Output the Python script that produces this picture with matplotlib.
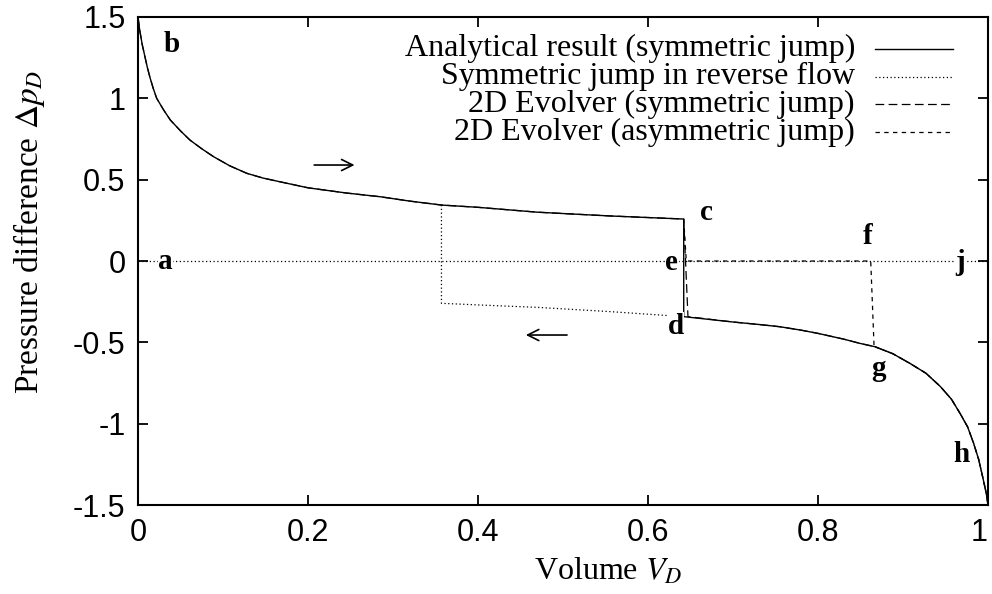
"""Pressure difference vs. volume for the symmetric/asymmetric jump comparison."""

import matplotlib
matplotlib.use("Agg")
import matplotlib.pyplot as plt
import numpy as np

plt.rcParams["mathtext.fontset"] = "stix"

# upper branch (forward flow)
v_upper = np.array([0.0, 0.002, 0.005, 0.008, 0.011, 0.014, 0.018, 0.022, 0.030,
                    0.038, 0.050, 0.061, 0.075, 0.089, 0.108, 0.128, 0.147, 0.167,
                    0.20, 0.245, 0.285, 0.320, 0.357, 0.40, 0.47, 0.555, 0.642])
p_upper = np.array([1.5, 1.42, 1.33, 1.26, 1.19, 1.13, 1.06, 1.0, 0.93,
                    0.867, 0.80, 0.744, 0.69, 0.641, 0.585, 0.539, 0.51, 0.487,
                    0.45, 0.418, 0.395, 0.368, 0.344, 0.33, 0.30, 0.277, 0.258])

# lower branch
v_lower = np.array([0.357, 0.40, 0.47, 0.555, 0.642, 0.70, 0.73, 0.755, 0.78, 0.80,
                    0.83, 0.849, 0.867, 0.888, 0.908, 0.927, 0.944, 0.957, 0.967,
                    0.976, 0.983, 0.989, 0.9945, 0.998, 1.0])
p_lower = np.array([-0.26, -0.27, -0.285, -0.311, -0.342, -0.375, -0.39, -0.404, -0.425, -0.445,
                    -0.48, -0.506, -0.527, -0.57, -0.629, -0.69, -0.772, -0.85, -0.936,
                    -1.02, -1.12, -1.22, -1.346, -1.43, -1.5])

v_jump = 0.642        # symmetric jump (c -> d)
v_rev_jump = 0.357    # symmetric jump in reverse flow
v_evolver_sym = [0.642, 0.647]
# asymmetric jump: c -> e -> f -> g
v_asym = [0.642, 0.645, 0.862, 0.866]
p_asym = [0.258, 0.0, 0.0, -0.535]

point_labels = ["a", "b", "c", "d", "e", "f", "g", "h", "j"]
point_v = [0.032, 0.040, 0.669, 0.633, 0.628, 0.858, 0.871, 0.969, 0.967]
point_p = [0.0, 1.33, 0.30, -0.40, -0.01, 0.15, -0.66, -1.19, -0.01]

SERIF = "Liberation Serif"
SANS = "Liberation Sans"

fig = plt.figure(figsize=(9.92, 5.94), dpi=100)
ax = fig.add_axes([0.1391, 0.1498, 0.8569, 0.8216])

lw = 1.0
dotted = (0, (1.0, 2.0))
dash_long = (0, (7, 3.5))
dash_short = (0, (3.5, 3.5))

# zero reference (reverse flow level)
ax.plot([0, 1], [0, 0], color="k", lw=0.9, ls=dotted, zorder=1)

# reverse flow: jump at v_rev_jump, then along lower branch
m = (v_lower >= v_rev_jump) & (v_lower <= v_jump)
ax.plot(np.r_[v_rev_jump, v_lower[m]], np.r_[p_upper[v_upper == v_rev_jump][0], p_lower[m]],
        color="k", lw=0.9, ls=dotted, zorder=2)

# 2D Evolver, asymmetric jump
ml = v_lower >= v_asym[-1]
ax.plot(np.r_[v_asym, v_lower[ml]], np.r_[p_asym, p_lower[ml]],
        color="k", lw=0.9, ls=dash_short, zorder=2)

# 2D Evolver, symmetric jump
ml = v_lower >= v_jump
ax.plot(np.r_[v_upper, v_evolver_sym[1], v_lower[ml][1:]],
        np.r_[p_upper, p_lower[ml][0], p_lower[ml][1:]],
        color="k", lw=0.9, ls=dash_long, zorder=2)

# analytical result
ax.plot(np.r_[v_upper, v_lower[ml]], np.r_[p_upper, p_lower[ml]],
        color="k", lw=lw, zorder=3)

# flow direction arrows
ax.annotate("", xy=(0.258, 0.59), xytext=(0.204, 0.59),
            arrowprops=dict(arrowstyle="->", lw=1.2, color="k", mutation_scale=20))
ax.annotate("", xy=(0.453, -0.455), xytext=(0.508, -0.455),
            arrowprops=dict(arrowstyle="->", lw=1.2, color="k", mutation_scale=20))

for lab, x, y in zip(point_labels, point_v, point_p):
    ax.text(x, y, lab, fontsize=21, fontweight="bold", family=SERIF,
            ha="center", va="center", zorder=5,
            bbox=dict(facecolor="white", edgecolor="none", pad=0.3))

# legend drawn by hand (gnuplot style: right aligned text, sample on the right)
legend_rows = [
    ("Analytical result (symmetric jump)", "-", lw),
    ("Symmetric jump in reverse flow", dotted, 0.9),
    ("2D Evolver (symmetric jump)", dash_long, 0.9),
    ("2D Evolver (asymmetric jump)", dash_short, 0.9),
]
row_y = [0.935, 0.878, 0.821, 0.764]
for (text, ls, w), y in zip(legend_rows, row_y):
    ax.text(0.8435, y, text, transform=ax.transAxes, ha="right", va="center",
            fontsize=23, family=SERIF)
    ax.plot([0.867, 0.959], [y, y], transform=ax.transAxes, color="k", lw=w, ls=ls)

ax.set_xlim(0, 1)
ax.set_ylim(-1.5, 1.5)
ax.set_xticks([0, 0.2, 0.4, 0.6, 0.8, 1])
ax.set_xticklabels(["0", "0.2", "0.4", "0.6", "0.8", "1"])
ax.set_yticks([-1.5, -1, -0.5, 0, 0.5, 1, 1.5])
ax.set_yticklabels(["-1.5", "-1", "-0.5", "0", "0.5", "1", "1.5"])
ax.tick_params(direction="in", length=7, width=1.3, top=True, right=True,
               labelsize=22, pad=9)
for lbl in ax.get_xticklabels() + ax.get_yticklabels():
    lbl.set_family(SANS)
ax.get_xticklabels()[-1].set_horizontalalignment("right")
for sp in ax.spines.values():
    sp.set_linewidth(1.5)

ax.set_xlabel(r"Volume $V_D$", fontsize=23, family=SERIF)
ax.set_ylabel(r"Pressure difference $\Delta p_D$", fontsize=24, family=SERIF)
ax.xaxis.set_label_coords(0.553, -0.105)
ax.yaxis.set_label_coords(-0.107, 0.56)

fig.savefig("out.png", dpi=100)
plt.close(fig)
